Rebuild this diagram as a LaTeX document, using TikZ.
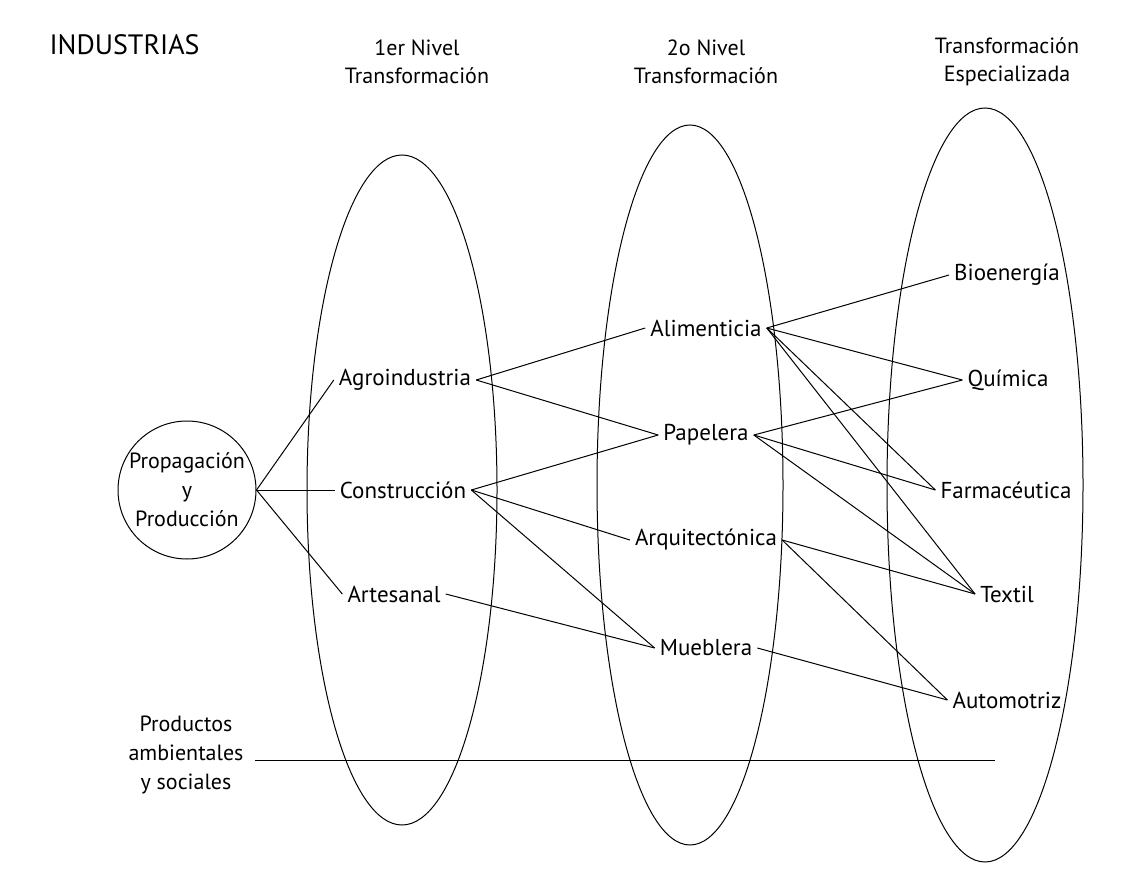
\documentclass[tikz,border=0pt]{standalone}
\usepackage{fontspec}
\setmainfont{PT Sans}
\begin{document}
\begin{tikzpicture}[x=1pt,y=-1pt,
  lbl/.style={font=\fontsize{23}{27}\selectfont, inner sep=5pt, align=center},
  ell/.style={draw, line width=1pt},
  ln/.style={line width=1pt}]
\useasboundingbox (0,0) rectangle (1140,880);
\draw[ell] (402,490) ellipse [x radius=95, y radius=335];
\draw[ell] (690,485) ellipse [x radius=93, y radius=360];
\draw[ell] (985,485) ellipse [x radius=98, y radius=377];
\node[draw, circle, line width=1pt, minimum size=138pt, inner sep=0pt, align=center, font=\fontsize{22}{29}\selectfont] (pp) at (187,490) {Propagación\\y\\Producción};
\node[font=\fontsize{28}{32}\selectfont, anchor=west] (ind) at (46,45) {INDUSTRIAS};
\node[lbl, font=\fontsize{22}{28}\selectfont] (h1) at (417,62) {1er Nivel\\Transformación};
\node[lbl, font=\fontsize{22}{28}\selectfont] (h2) at (706,62) {2o Nivel\\Transformación};
\node[lbl, font=\fontsize{22}{28}\selectfont] (h3) at (1007,62) {Transformación\\Especializada};
\node[lbl] (agro) at (405,380) {Agroindustria};
\node[lbl] (cons) at (403,490) {Construcción};
\node[lbl] (arte) at (394,594) {Artesanal};
\node[lbl] (alim) at (706,328) {Alimenticia};
\node[lbl] (pape) at (706,435) {Papelera};
\node[lbl] (arqu) at (706,540) {Arquitectónica};
\node[lbl] (mueb) at (706,648) {Mueblera};
\node[lbl] (bioe) at (1007,275) {Bioenergía};
\node[lbl] (quim) at (1008,380) {Química};
\node[lbl] (farm) at (1006,490) {Farmacéutica};
\node[lbl] (text) at (1007,594) {Textil};
\node[lbl] (auto) at (1007,700) {Automotriz};
\node[lbl, font=\fontsize{22}{29}\selectfont] (prod) at (186,755) {Productos\\ambientales\\y sociales};
\coordinate (pstart) at (255,760);
\coordinate (pend) at (995,760);
\draw[ln] (pstart) -- (pend);
\draw[ln] (pp.east) -- (agro.west);
\draw[ln] (pp.east) -- (cons.west);
\draw[ln] (pp.east) -- (arte.west);
\draw[ln] (agro.east) -- (alim.west);
\draw[ln] (agro.east) -- (pape.west);
\draw[ln] (cons.east) -- (pape.west);
\draw[ln] (cons.east) -- (arqu.west);
\draw[ln] (cons.east) -- (mueb.west);
\draw[ln] (arte.east) -- (mueb.west);
\draw[ln] (alim.east) -- (bioe.west);
\draw[ln] (alim.east) -- (quim.west);
\draw[ln] (alim.east) -- (farm.west);
\draw[ln] (alim.east) -- (text.west);
\draw[ln] (pape.east) -- (quim.west);
\draw[ln] (pape.east) -- (farm.west);
\draw[ln] (pape.east) -- (text.west);
\draw[ln] (arqu.east) -- (text.west);
\draw[ln] (arqu.east) -- (auto.west);
\draw[ln] (mueb.east) -- (auto.west);
\end{tikzpicture}
\end{document}
